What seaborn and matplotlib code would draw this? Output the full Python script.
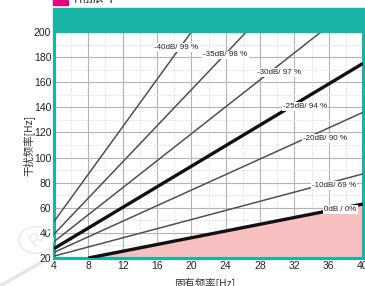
import numpy as np
import pandas as pd
import seaborn as sns
import matplotlib
matplotlib.use("Agg")
import matplotlib.pyplot as plt
from matplotlib.patches import Rectangle, Circle

# ---- data ----
series_names = ["-40dB/ 99 %", "-35dB/ 98 %", "-30dB/ 97 %", "-25dB/ 94 %",
                "-20dB/ 90 %", "-10dB/ 69 %", "0dB / 0%"]
freq_start = [4, 4, 4, 4, 4, 4, 8]
freq_end = [20.0, 26.4, 35.1, 40, 40, 40, 40]
dist_start = [49, 39, 33, 27.5, 24.5, 21.5, 20]
dist_end = [200, 200, 200, 175, 136, 87, 63]
label_x = [15.6, 21.4, 27.6, 30.7, 33.0, 34.1, 35.5]
label_y = [188, 181.7, 167.6, 140.5, 115.4, 77.4, 58.8]
thick = [False, False, False, True, False, False, True]

x_ticks = [4, 8, 12, 16, 20, 24, 28, 32, 36, 40]
y_ticks = [20, 40, 60, 80, 100, 120, 140, 160, 180, 200]

sns.set_theme(style="white")
plt.rcParams['font.family'] = ['Liberation Sans', 'Noto Sans CJK SC', 'DejaVu Sans']

W, H = 365, 286
fig = plt.figure(figsize=(W / 100, H / 100), dpi=100)
fig.patch.set_facecolor("white")

L, R, T, B = 54, 363, 32, 258
ax = fig.add_axes([L / W, 1 - B / H, (R - L) / W, (B - T) / H])

rows = []
for i, n in enumerate(series_names):
    rows.append({"s": n, "f": freq_start[i], "d": dist_start[i]})
    rows.append({"s": n, "f": freq_end[i], "d": dist_end[i]})
df = pd.DataFrame(rows)

# fill under 0dB line
zero = df[df.s == series_names[-1]]
ax.fill_between(zero.f, 20, zero.d, color="#f7bfbf", lw=0, zorder=1)

for i, n in enumerate(series_names):
    sub = df[df.s == n]
    sns.lineplot(data=sub, x="f", y="d", ax=ax, color="#111111" if thick[i] else "#505050",
                 lw=2.4 if thick[i] else 1.1, legend=False, zorder=3, solid_capstyle="butt")
    ax.text(label_x[i], label_y[i], series_names[i], fontsize=5.8, ha="left", va="center",
            color="#222222", zorder=4,
            family=["Liberation Sans Narrow", "Liberation Sans", "DejaVu Sans"],
            bbox=dict(boxstyle="square,pad=0.12", fc="white", ec="none"))

ax.set_xlim(4, 40)
ax.set_ylim(20, 200)
ax.set_xticks(x_ticks)
ax.set_yticks(y_ticks)
ax.set_xticks(np.arange(6, 40, 4), minor=True)
ax.set_yticks(np.arange(30, 200, 20), minor=True)
ax.grid(True, which="major", color="#b3b3b3", lw=0.8, zorder=0)
ax.grid(True, which="minor", color="#dcdcdc", lw=0.7, ls=(0, (1.5, 1.5)), zorder=0)
ax.set_axisbelow(True)
ax.tick_params(which="both", length=0, labelsize=7.5, colors="#222222", pad=2)
ax.set_xlabel("")
ax.set_ylabel("")

teal = "#18b4a5"
for s in ["left", "right", "bottom"]:
    ax.spines[s].set_color(teal)
    ax.spines[s].set_linewidth(2.2)
    ax.spines[s].set_visible(True)
ax.spines["top"].set_visible(False)

# header band
fig.patches.append(Rectangle((53 / W, 1 - 32 / H), (W - 53) / W, 24 / H,
                             transform=fig.transFigure, color=teal, zorder=5))
fig.patches.append(Rectangle((53 / W, 1 - 5 / H), 15 / W, 5 / H,
                             transform=fig.transFigure, color="#e4007f", zorder=5))
fig.text(74 / W, 1 - 6 / H, "隔振率", fontsize=11, ha="left", va="bottom",
         color="#333333", family=["Noto Sans CJK SC", "DejaVu Sans"])

# axis labels
fig.text(28 / W, 1 - 145 / H, "干扰频率[Hz]", rotation=90, fontsize=7.5, ha="center",
         va="center", color="#333333", family=["Noto Sans CJK SC", "DejaVu Sans"])
fig.text(205 / W, 1 - 277 / H, "固有频率[Hz]", fontsize=7.5, ha="center", va="top",
         color="#333333", family=["Noto Sans CJK SC", "DejaVu Sans"])

# faint watermark
fig.patches.append(Circle((36 / W, 1 - 240 / H), 17 / W, transform=fig.transFigure,
                          fill=False, ec="#ececec", lw=1.2, zorder=0))
fig.text(36 / W, 1 - 240 / H, "R", fontsize=12, color="#ececec", rotation=40,
         ha="center", va="center", zorder=0)
fig.add_artist(plt.Line2D([0 / W, 42 / W], [1 - 286 / H, 1 - 262 / H],
                          transform=fig.transFigure, color="#e6e6e6", lw=2.5, zorder=0))

fig.savefig("out.png", dpi=100)
